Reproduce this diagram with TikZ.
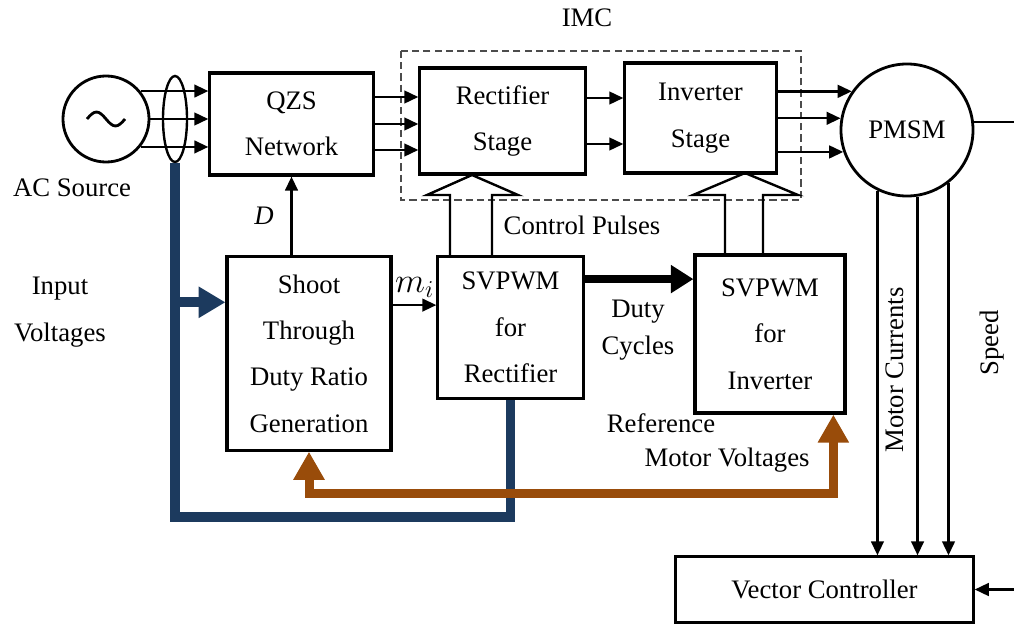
\documentclass[tikz,border=0pt]{standalone}
\usepackage{fontspec}
\setmainfont{Liberation Serif}
\usetikzlibrary{arrows.meta,calc,shapes.geometric}
\definecolor{navy}{RGB}{28,58,94}
\definecolor{rust}{RGB}{153,76,10}
\begin{document}
\begin{tikzpicture}[x=0.025cm,y=-0.025cm,font=\fontsize{19}{33}\selectfont]
	\tikzstyle{block} = [draw,line width=2.2pt,align=center,inner sep=0pt]
	\tikzstyle{wire} = [line width=1.7pt,-{Triangle[length=10pt,width=9pt]}]
	\tikzstyle{pulse} = [line width=1.7pt,line join=miter]
	\tikzstyle{bus} = [line width=7pt,navy]
	\tikzstyle{refline} = [line width=6.4pt,rust]
	\tikzstyle{lbl} = [align=center,inner sep=0pt]

	\useasboundingbox (0,0) rectangle (1014,624);

	% power path
	\node[circle,draw,line width=2pt,minimum size=2.15cm,inner sep=0pt] (src) at (106,119) {};
	\draw[line width=2pt] ($(src.center)+(-19,0)$) sin ++(9.5,-7) cos ++(9.5,7) sin ++(9.5,7) cos ++(9.5,-7);
	\node[ellipse,draw,line width=1.7pt,minimum width=0.6cm,minimum height=2.15cm,inner sep=0pt] (bundle) at (175,119) {};
	\node[block,minimum width=4.08cm,minimum height=2.55cm] (qzs) at (291.5,124) {QZS\\Network};
	\node[block,minimum width=4.13cm,minimum height=2.65cm] (rect) at (502.5,121) {Rectifier\\Stage};
	\node[block,minimum width=3.78cm,minimum height=2.75cm] (inv) at (700.5,118) {Inverter\\Stage};
	\node[circle,draw,line width=2pt,minimum size=3.3cm,inner sep=0pt] (pmsm) at (907,130) {PMSM};
	\draw[dash pattern=on 5pt off 3pt,line width=1pt,black!70] (401,51) rectangle (801,200);
	\node[lbl] (imc) at (587,18) {IMC};

	\foreach \a in {39,0,-39}
		\draw[wire] (src.\a) -- (src.\a -| qzs.west);
	\foreach \d [count=\i] in {-27,0,26} {
		\coordinate (qo\i) at ($(qzs.east)+(0,\d)$);
		\draw[wire] (qo\i) -- (qo\i -| rect.west);
	}
	\foreach \d [count=\i] in {-23,23} {
		\coordinate (ro\i) at ($(rect.east)+(0,\d)$);
		\draw[wire] (ro\i) -- (ro\i -| inv.west);
	}
	\foreach \a in {145,170,199}
		\draw[wire] (pmsm.\a -| inv.east) -- (pmsm.\a);

	% control path
	\node[block,minimum width=4.1cm,minimum height=4.83cm] (shoot) at (309,353.5) {Shoot\\Through\\Duty Ratio\\Generation};
	\node[block,minimum width=3.63cm,minimum height=3.53cm] (svr) at (510.5,327.5) {SVPWM\\for\\Rectifier};
	\node[block,minimum width=3.75cm,minimum height=3.95cm] (svi) at (770,334) {SVPWM\\for\\Inverter};
	\node[block,minimum width=7.43cm,minimum height=1.63cm] (vc) at (824.5,589.5) {Vector Controller};

	\draw[wire] (shoot.north -| qzs.south) -- (qzs.south) node[midway,left=0.3cm]{\textit{D}};
	\coordinate (mi) at ([yshift=1.21cm]shoot.east);
	\draw[wire] (mi) -- (mi -| svr.west) node[midway,above=1pt,font=\fontsize{25}{28}\selectfont]{$m_i$};
	\coordinate (dc) at ([yshift=1.21cm]svr.east);
	\draw[line width=5.7pt,-{Triangle[length=16pt,width=19pt]}] (dc) -- (dc -| svi.west);

	\draw[pulse] (450,257) -- (450,195) -- (427,195) -- (472,175) -- (518,195) -- (492,195) -- (492,257);
	\draw[pulse] (725,255) -- (725,195) -- (693,195) -- (745,173) -- (798,195) -- (763,195) -- (763,255);

	% feedback
	\coordinate (fb) at (178,517);
	\draw[bus] (bundle.south) -- (bundle.south |- fb) -| (svr.south);
	\coordinate (vin) at ([yshift=1.28cm]shoot.west);
	\draw[bus,-{Triangle[length=19pt,width=21pt]}] (vin -| bundle.south) -- (vin);
	\coordinate (vref) at ([xshift=-0.33cm]svi.south east);
	\coordinate (rl) at (0,493);
	\draw[refline,{Triangle[length=20pt,width=21pt]}-{Triangle[length=20pt,width=21pt]}] (shoot.south) -- (shoot.south |- rl) -| (vref);

	\foreach \a in {244,279,308}
		\draw[wire] (pmsm.\a) -- (pmsm.\a |- vc.north);
	\coordinate (rim) at (1014,0);
	\draw[line width=1.7pt] (pmsm.7) -- (pmsm.7 -| rim);
	\draw[wire] (vc.east -| rim) -- (vc.east);

	% labels
	\node[lbl] (acs) at (72,188) {AC Source};
	\node[lbl] (inp) at (60,312) {Input\\Voltages};
	\node[lbl] (cp) at (582,225) {Control Pulses};
	\node[lbl,font=\fontsize{19}{26}\selectfont] (duty) at (638,330) {Duty\\Cycles};
	\node[lbl] (refv) at (661,423) {Reference};
	\node[lbl] (mv) at (727,460) {Motor Voltages};
	\node[lbl,rotate=90] (mc) at (895,370) {Motor Currents};
	\node[lbl,rotate=90] (spd) at (992,343) {Speed};
\end{tikzpicture}
\end{document}
